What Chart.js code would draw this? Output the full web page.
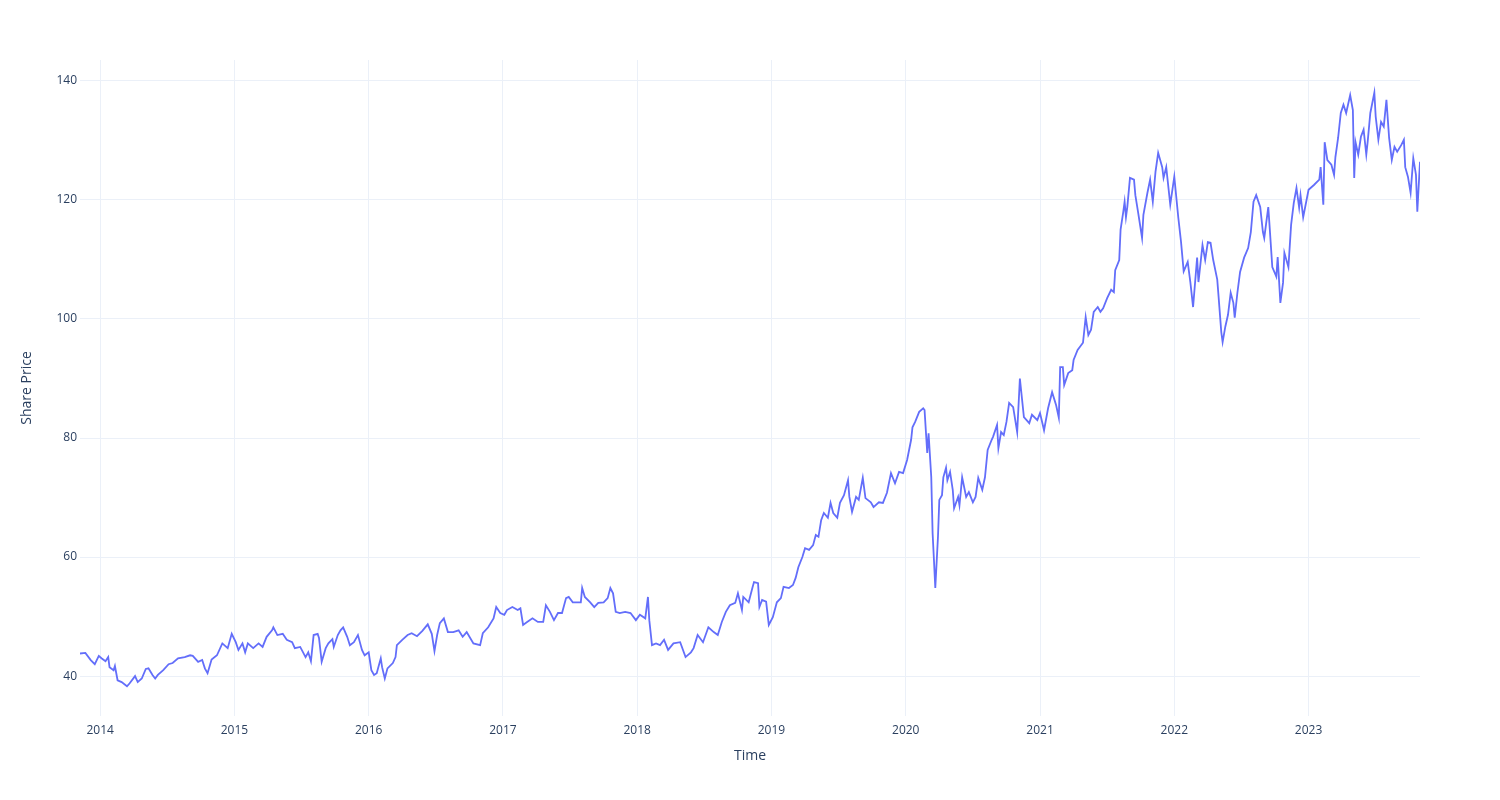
<!DOCTYPE html>
<html>
<head>
<meta charset="utf-8">
<script src="https://cdn.jsdelivr.net/npm/chart.js@4"></script>
<style>
  html, body { margin: 0; padding: 0; background: #fff; }
  #wrap { width: 1500px; height: 800px; }
</style>
</head>
<body>
<div id="wrap"><canvas id="priceChart" width="1500" height="800"></canvas></div>
<script>
// Share price over time (decimal years)
const dates = [
  2013.85, 2013.89, 2013.93, 2013.96, 2013.99, 2014.01, 2014.04, 2014.06, 2014.07, 2014.10,
  2014.11, 2014.13, 2014.16, 2014.20, 2014.22, 2014.26, 2014.28, 2014.31, 2014.34, 2014.36,
  2014.39, 2014.41, 2014.43, 2014.47, 2014.51, 2014.54, 2014.58, 2014.63, 2014.67, 2014.69,
  2014.73, 2014.76, 2014.78, 2014.80, 2014.83, 2014.87, 2014.91, 2014.95, 2014.98, 2015.01,
  2015.03, 2015.06, 2015.08, 2015.10, 2015.14, 2015.18, 2015.21, 2015.24, 2015.28, 2015.29,
  2015.32, 2015.36, 2015.39, 2015.43, 2015.45, 2015.49, 2015.53, 2015.55, 2015.57, 2015.59,
  2015.62, 2015.63, 2015.65, 2015.68, 2015.70, 2015.73, 2015.74, 2015.77, 2015.79, 2015.81,
  2015.84, 2015.86, 2015.89, 2015.92, 2015.95, 2015.97, 2016.00, 2016.02, 2016.04, 2016.06,
  2016.09, 2016.10, 2016.12, 2016.14, 2016.18, 2016.20, 2016.21, 2016.25, 2016.29, 2016.32,
  2016.36, 2016.40, 2016.44, 2016.47, 2016.49, 2016.51, 2016.53, 2016.56, 2016.59, 2016.63,
  2016.67, 2016.70, 2016.73, 2016.78, 2016.83, 2016.85, 2016.89, 2016.93, 2016.95, 2016.98,
  2017.01, 2017.03, 2017.07, 2017.11, 2017.13, 2017.15, 2017.18, 2017.22, 2017.26, 2017.30,
  2017.32, 2017.35, 2017.38, 2017.41, 2017.44, 2017.47, 2017.49, 2017.52, 2017.55, 2017.58,
  2017.59, 2017.61, 2017.65, 2017.68, 2017.71, 2017.75, 2017.78, 2017.80, 2017.82, 2017.84,
  2017.87, 2017.91, 2017.95, 2017.99, 2018.02, 2018.06, 2018.08, 2018.09, 2018.11, 2018.14,
  2018.17, 2018.20, 2018.23, 2018.27, 2018.32, 2018.36, 2018.40, 2018.42, 2018.45, 2018.49,
  2018.53, 2018.57, 2018.60, 2018.63, 2018.66, 2018.69, 2018.73, 2018.75, 2018.78, 2018.79,
  2018.83, 2018.86, 2018.87, 2018.90, 2018.91, 2018.93, 2018.96, 2018.98, 2019.01, 2019.04,
  2019.07, 2019.09, 2019.13, 2019.16, 2019.18, 2019.20, 2019.23, 2019.25, 2019.28, 2019.31,
  2019.33, 2019.35, 2019.37, 2019.39, 2019.42, 2019.44, 2019.46, 2019.49, 2019.51, 2019.54,
  2019.57, 2019.58, 2019.60, 2019.63, 2019.65, 2019.68, 2019.70, 2019.74, 2019.76, 2019.80,
  2019.83, 2019.86, 2019.89, 2019.92, 2019.95, 2019.98, 2020.01, 2020.04, 2020.05, 2020.07,
  2020.10, 2020.13, 2020.14, 2020.16, 2020.17, 2020.19, 2020.20, 2020.21, 2020.22, 2020.24,
  2020.25, 2020.27, 2020.28, 2020.30, 2020.31, 2020.33, 2020.35, 2020.36, 2020.39, 2020.40,
  2020.42, 2020.45, 2020.47, 2020.50, 2020.52, 2020.54, 2020.57, 2020.59, 2020.61, 2020.64,
  2020.65, 2020.68, 2020.69, 2020.71, 2020.73, 2020.75, 2020.77, 2020.80, 2020.83, 2020.85,
  2020.88, 2020.92, 2020.94, 2020.98, 2021.00, 2021.03, 2021.06, 2021.09, 2021.12, 2021.14,
  2021.15, 2021.17, 2021.18, 2021.21, 2021.24, 2021.25, 2021.28, 2021.32, 2021.34, 2021.36,
  2021.38, 2021.40, 2021.43, 2021.45, 2021.47, 2021.50, 2021.53, 2021.55, 2021.56, 2021.59,
  2021.60, 2021.62, 2021.63, 2021.64, 2021.65, 2021.67, 2021.70, 2021.71, 2021.73, 2021.76,
  2021.77, 2021.80, 2021.82, 2021.84, 2021.86, 2021.88, 2021.91, 2021.92, 2021.94, 2021.97,
  2022.00, 2022.03, 2022.05, 2022.07, 2022.10, 2022.12, 2022.14, 2022.17, 2022.18, 2022.21,
  2022.23, 2022.25, 2022.27, 2022.29, 2022.32, 2022.33, 2022.35, 2022.36, 2022.38, 2022.40,
  2022.42, 2022.44, 2022.45, 2022.47, 2022.49, 2022.52, 2022.55, 2022.57, 2022.59, 2022.61,
  2022.64, 2022.66, 2022.67, 2022.70, 2022.71, 2022.73, 2022.76, 2022.77, 2022.79, 2022.81,
  2022.82, 2022.85, 2022.87, 2022.89, 2022.91, 2022.93, 2022.94, 2022.96, 2023.00, 2023.04,
  2023.08, 2023.09, 2023.11, 2023.12, 2023.14, 2023.17, 2023.19, 2023.20, 2023.22, 2023.24,
  2023.26, 2023.28, 2023.31, 2023.33, 2023.34, 2023.35, 2023.37, 2023.39, 2023.41, 2023.43,
  2023.44, 2023.46, 2023.49, 2023.50, 2023.52, 2023.54, 2023.56, 2023.58, 2023.60, 2023.62,
  2023.64, 2023.66, 2023.69, 2023.71, 2023.72, 2023.74, 2023.76, 2023.78, 2023.80, 2023.81,
  2023.83
];

const prices = [
  43.8, 43.9, 42.7, 42.0, 43.4, 43.0, 42.5, 43.2, 41.5, 41.0,
  41.7, 39.3, 39.0, 38.3, 38.8, 40.0, 39.0, 39.6, 41.2, 41.3,
  40.2, 39.6, 40.2, 41.0, 42.0, 42.2, 43.0, 43.2, 43.5, 43.4,
  42.4, 42.7, 41.3, 40.5, 42.8, 43.5, 45.5, 44.7, 47.1, 45.7,
  44.4, 45.5, 44.0, 45.5, 44.7, 45.5, 44.9, 46.6, 47.7, 48.2,
  46.9, 47.1, 46.1, 45.7, 44.7, 44.9, 43.2, 44.0, 42.5, 46.9,
  47.1, 46.4, 42.4, 44.7, 45.5, 46.2, 44.9, 46.9, 47.7, 48.2,
  46.6, 45.2, 45.7, 46.9, 44.4, 43.5, 44.0, 41.0, 40.2, 40.5,
  43.0, 41.5, 39.6, 41.3, 42.2, 43.2, 45.2, 46.1, 46.9, 47.2,
  46.7, 47.6, 48.7, 47.1, 44.2, 46.9, 48.9, 49.7, 47.4, 47.4,
  47.7, 46.6, 47.4, 45.5, 45.2, 47.2, 48.2, 49.7, 51.6, 50.6,
  50.3, 51.1, 51.6, 51.1, 51.4, 48.6, 49.1, 49.7, 49.1, 49.1,
  51.9, 50.8, 49.4, 50.6, 50.6, 53.1, 53.3, 52.4, 52.4, 52.4,
  54.8, 53.3, 52.4, 51.6, 52.3, 52.4, 53.1, 54.8, 53.9, 50.8,
  50.6, 50.8, 50.6, 49.4, 50.3, 49.7, 53.3, 49.4, 45.2, 45.5,
  45.2, 46.1, 44.4, 45.5, 45.7, 43.2, 44.0, 44.7, 46.9, 45.7,
  48.2, 47.4, 46.9, 49.1, 50.8, 51.9, 52.3, 53.9, 51.1, 53.3,
  52.4, 55.0, 55.8, 55.6, 51.6, 52.8, 52.5, 48.6, 49.9, 52.4,
  53.1, 55.0, 54.8, 55.3, 56.5, 58.3, 60.0, 61.5, 61.2, 62.0,
  63.7, 63.4, 66.2, 67.4, 66.6, 69.1, 67.4, 66.6, 69.1, 70.4,
  72.9, 70.1, 67.6, 70.1, 69.6, 73.3, 69.9, 69.2, 68.4, 69.2,
  69.1, 70.8, 74.1, 72.4, 74.3, 74.1, 76.3, 79.7, 81.8, 82.7,
  84.4, 85.0, 84.7, 77.5, 80.8, 73.4, 64.0, 59.5, 54.8, 63.4,
  69.6, 70.4, 73.4, 75.0, 72.9, 74.3, 71.3, 68.2, 70.1, 68.7,
  73.4, 70.1, 70.9, 69.2, 70.1, 73.3, 71.3, 73.4, 78.0, 79.7,
  80.2, 82.2, 78.3, 81.0, 80.5, 82.7, 85.9, 85.2, 81.0, 90.0,
  83.5, 82.5, 83.9, 83.0, 84.2, 81.3, 85.0, 87.7, 85.5, 83.4,
  91.9, 91.9, 88.9, 90.9, 91.4, 93.1, 94.8, 96.0, 100.3, 97.3,
  98.2, 101.2, 102.0, 101.2, 101.8, 103.5, 104.9, 104.5, 108.2, 109.9,
  115.0, 118.0, 119.7, 117.1, 118.8, 123.7, 123.4, 120.8, 118.0, 113.6,
  117.5, 121.2, 123.4, 119.7, 124.7, 127.9, 125.5, 123.7, 125.5, 119.2,
  123.9, 117.0, 113.0, 108.0, 109.6, 106.1, 102.0, 110.3, 106.2, 112.4,
  109.9, 112.9, 112.8, 109.9, 106.6, 103.7, 97.8, 96.1, 98.7, 100.7,
  104.4, 102.7, 100.2, 104.4, 107.9, 110.3, 111.9, 114.6, 119.7, 120.8,
  118.8, 114.6, 113.6, 118.8, 115.5, 108.7, 107.1, 110.4, 102.7, 106.1,
  111.1, 108.7, 115.8, 119.5, 122.0, 118.7, 120.8, 117.1, 121.7, 122.5,
  123.4, 125.5, 119.2, 129.7, 126.7, 125.9, 124.2, 127.2, 130.4, 134.6,
  136.0, 134.6, 137.6, 135.1, 123.7, 129.7, 127.6, 130.6, 131.8, 127.6,
  129.7, 134.6, 138.0, 134.0, 130.1, 133.1, 132.3, 136.8, 130.4, 126.7,
  128.9, 128.1, 129.2, 130.1, 125.5, 123.9, 121.2, 127.0, 124.2, 118.0,
  126.4
];

const yearTicks = [2014, 2015, 2016, 2017, 2018, 2019, 2020, 2021, 2022, 2023];
const priceTicks = [40, 60, 80, 100, 120, 140];

const textColor = '#2a3f5f';
const gridColor = '#ebf0f8';

const points = dates.map((d, i) => ({ x: d, y: prices[i] }));

new Chart(document.getElementById('priceChart'), {
    type: 'line',
    data: {
        datasets: [{
            label: 'Share Price',
            data: points,
            borderColor: '#636efa',
            borderWidth: 1.8,
            pointRadius: 0,
            tension: 0,
            fill: false
        }]
    },
    options: {
        responsive: false,
        animation: false,
        layout: { padding: { top: 60, right: 80, bottom: 0, left: 0 } },
        plugins: { legend: { display: false }, tooltip: { enabled: false } },
        scales: {
            x: {
                type: 'linear',
                min: dates[0],
                max: dates[dates.length - 1],
                afterBuildTicks: s => { s.ticks = yearTicks.map(v => ({ value: v })); },
                afterFit: s => { s.height = 84; },
                grid: { color: gridColor, drawTicks: false },
                border: { display: false },
                ticks: {
                    padding: 7,
                    color: textColor,
                    font: { family: '"Open Sans", sans-serif', size: 12 },
                    maxRotation: 0,
                    callback: v => String(v)
                },
                title: {
                    display: true,
                    text: 'Time',
                    color: textColor,
                    font: { family: '"Open Sans", sans-serif', size: 14 },
                    padding: { top: 0, bottom: 36 }
                }
            },
            y: {
                min: 33.3,
                max: 143.5,
                afterBuildTicks: s => { s.ticks = priceTicks.map(v => ({ value: v })); },
                afterFit: s => { s.width = 80; },
                grid: { color: gridColor, drawTicks: false },
                border: { display: false },
                ticks: {
                    padding: 3,
                    color: textColor,
                    font: { family: '"Open Sans", sans-serif', size: 12 }
                },
                title: {
                    display: true,
                    text: 'Share Price',
                    color: textColor,
                    font: { family: '"Open Sans", sans-serif', size: 14 },
                    padding: { top: 19, bottom: 0 }
                }
            }
        }
    }
});
</script>
</body>
</html>
